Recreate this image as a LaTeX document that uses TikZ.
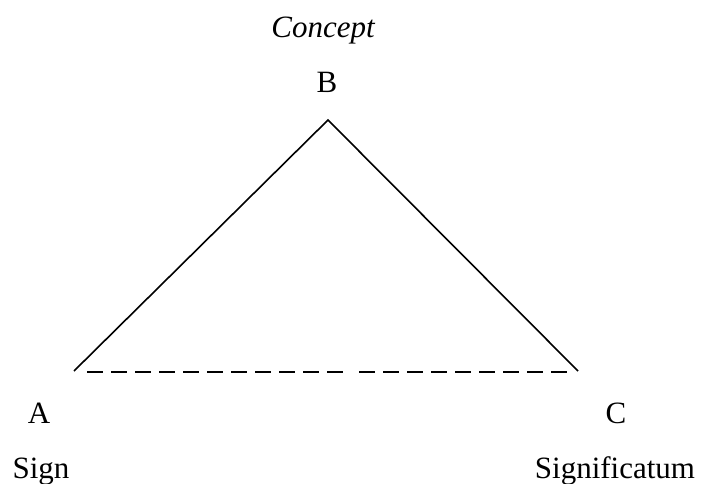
\documentclass[tikz,border=0pt]{standalone}
\usepackage{fontspec}
\setmainfont{Liberation Serif}
\usetikzlibrary{positioning}

\begin{document}
\begin{tikzpicture}[x=1pt,y=-1pt,
    lbl/.style={anchor=base,inner sep=0pt,font=\fontsize{31}{36}\selectfont}]
\useasboundingbox (0,0) rectangle (702,484);
\coordinate (A) at (74,371);
\coordinate (B) at (328,120);
\coordinate (C) at (578,371);
% dashed base, in two runs
\coordinate (d1) at (87,372);
\coordinate (d2) at (343,372);
\coordinate (d3) at (359,372);
\coordinate (d4) at (567,372);
\draw[line width=1.6pt] (A) -- (B) -- (C);
\draw[line width=1.6pt,dash pattern=on 16pt off 8pt] (d1) -- (d2);
\draw[line width=1.6pt,dash pattern=on 16pt off 8pt] (d3) -- (d4);
\node[lbl,font=\fontsize{31}{36}\selectfont\itshape] (concept) at (323,38) {Concept};
\node[lbl] (lB) at (327,93) {B};
\node[lbl] (lA) at (39,423) {A};
\node[lbl] (lC) at (616,423) {C};
\node[lbl] (sign) at (41,478) {Sign};
\node[lbl] (signif) at (615,478) {Significatum};
\end{tikzpicture}
\end{document}
